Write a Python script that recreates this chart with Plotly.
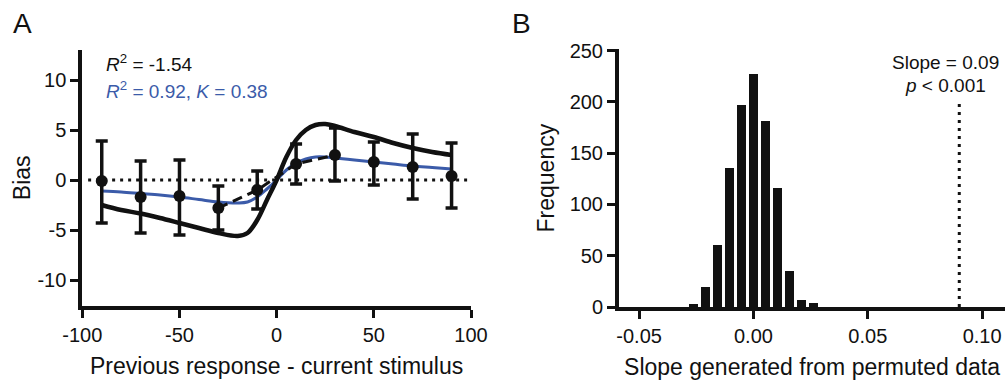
import plotly.graph_objects as go

W, H = 1005, 382

# ---- Panel A data ----
prev_x = [-90, -70, -50, -30, -10, 10, 30, 50, 70, 90]
bias_mean = [-0.1, -1.7, -1.6, -2.8, -1.0, 1.6, 2.5, 1.8, 1.3, 0.4]
err_up = [3.9, 1.9, 2.0, -0.6, 0.9, 3.6, 5.2, 3.8, 4.6, 3.7]
err_low = [-4.3, -5.3, -5.5, -5.0, -2.9, -0.4, -0.1, -0.5, -1.9, -2.8]

dashed_x = [-30, -10, 10, 30]
dashed_y = [-2.8, -1.0, 1.6, 2.5]

curve_x = [-90, -80, -70, -60, -50, -40, -30, -20, -15, -10, -5, 0,
           5, 10, 15, 20, 25, 30, 40, 50, 60, 70, 80, 90]
black_fit = [-2.5, -3.0, -3.35, -3.8, -4.3, -4.8, -5.3, -5.6, -5.3, -4.0, -2.0, 0.0,
             2.3, 4.0, 5.0, 5.5, 5.6, 5.4, 4.8, 4.3, 3.7, 3.2, 2.8, 2.5]
blue_fit = [-1.1, -1.2, -1.35, -1.5, -1.7, -1.95, -2.2, -2.3, -2.2, -1.7, -0.9, 0.0,
            1.0, 1.7, 2.1, 2.3, 2.3, 2.2, 2.0, 1.8, 1.6, 1.4, 1.25, 1.1]

zero_x = [-97, 98]
zero_y = [0, 0]

a_xticks = [-100, -50, 0, 50, 100]
a_xticklabels = ["-100", "-50", "0", "50", "100"]
a_yticks = [-10, -5, 0, 5, 10]
a_yticklabels = ["-10", "-5", "0", "5", "10"]

# ---- Panel B data ----
slope_bins = [-0.0263, -0.021, -0.0158, -0.0105, -0.0053, 0.0, 0.0053, 0.0105, 0.0158, 0.021, 0.0263]
slope_freq = [3, 19, 60, 135, 197, 227, 181, 116, 35, 7, 4]
observed_slope = 0.09
obs_line_top = 198
b_xticks = [-0.05, 0.0, 0.05, 0.10]
b_xticklabels = ["-0.05", "0.00", "0.05", "0.10"]
b_yticks = [0, 50, 100, 150, 200, 250]

FONT = "Liberation Sans, Arial, Helvetica, sans-serif"
INK = "#111111"
BLUE = "#3b5ba9"

def px(x):
    return x / W

def py(y):
    return 1 - y / H

fig = go.Figure()

# Panel A traces
fig.add_trace(go.Scatter(x=zero_x, y=zero_y, mode="lines",
                         line=dict(color=INK, width=3, dash="3px,5px"),
                         xaxis="x", yaxis="y", showlegend=False, hoverinfo="skip"))
fig.add_trace(go.Scatter(x=curve_x, y=blue_fit, mode="lines", line_shape="spline",
                         line=dict(color=BLUE, width=3),
                         xaxis="x", yaxis="y", showlegend=False))
fig.add_trace(go.Scatter(x=curve_x, y=black_fit, mode="lines", line_shape="spline",
                         line=dict(color=INK, width=4.5),
                         xaxis="x", yaxis="y", showlegend=False))
fig.add_trace(go.Scatter(x=dashed_x, y=dashed_y, mode="lines",
                         line=dict(color=INK, width=3, dash="10px,6px"),
                         xaxis="x", yaxis="y", showlegend=False))
fig.add_trace(go.Scatter(
    x=prev_x, y=bias_mean, mode="markers",
    marker=dict(color=INK, size=12),
    error_y=dict(type="data", symmetric=False,
                 array=[u - m for u, m in zip(err_up, bias_mean)],
                 arrayminus=[m - l for l, m in zip(err_low, bias_mean)],
                 color=INK, thickness=3.5, width=6),
    xaxis="x", yaxis="y", showlegend=False))

# Panel B traces
fig.add_trace(go.Bar(x=slope_bins, y=slope_freq, width=0.0041,
                     marker=dict(color=INK, line=dict(width=0)),
                     xaxis="x2", yaxis="y2", showlegend=False))
fig.add_trace(go.Scatter(x=[observed_slope, observed_slope], y=[0, obs_line_top], mode="lines",
                         line=dict(color=INK, width=3, dash="3px,5px"),
                         xaxis="x2", yaxis="y2", showlegend=False))

axis_common = dict(showline=True, linecolor=INK, linewidth=4, ticks="outside",
                   ticklen=8, tickwidth=3, tickcolor=INK, showgrid=False, zeroline=False,
                   automargin=False,
                   tickfont=dict(family=FONT, size=20, color=INK),
                   title_font=dict(family=FONT, size=23, color=INK))

fig.update_layout(
    width=W, height=H,
    margin=dict(l=0, r=0, t=0, b=0, pad=0),
    paper_bgcolor="white", plot_bgcolor="white",
    font=dict(family=FONT, color=INK),
    bargap=0,
    xaxis=dict(domain=[px(82.3), px(471)], range=[-100, 100], tickvals=a_xticks,
               ticktext=a_xticklabels,
               anchor="y", title=dict(text="Previous response - current stimulus", standoff=14),
               **axis_common),
    yaxis=dict(domain=[py(305.5), py(50)], range=[-12.55, 13], tickvals=a_yticks,
               ticktext=a_yticklabels,
               anchor="x", title=dict(text="Bias", standoff=1), **axis_common),
    xaxis2=dict(domain=[px(619), 1.0], range=[-0.0588, 0.11], tickvals=b_xticks,
                ticktext=b_xticklabels, anchor="y2",
                title=dict(text="Slope generated from permuted data", standoff=14),
                **axis_common),
    yaxis2=dict(domain=[py(307), py(49.3)], range=[0, 251.4], tickvals=b_yticks,
                anchor="x2", title=dict(text="Frequency", standoff=10), **axis_common),
)

ann = [
    dict(x=px(22), y=py(24), text="A", font=dict(size=28, color=INK, family=FONT)),
    dict(x=px(521), y=py(24), text="B", font=dict(size=28, color=INK, family=FONT)),
    dict(x=px(104), y=py(63), text="<i>R</i><sup>2</sup> = -1.54", xanchor="left",
         font=dict(size=19, color=INK, family=FONT)),
    dict(x=px(104), y=py(90), text="<i>R</i><sup>2</sup> = 0.92, <i>K</i> = 0.38", xanchor="left",
         font=dict(size=19, color=BLUE, family=FONT)),
    dict(x=px(945), y=py(63), text="Slope = 0.09", font=dict(size=19, color=INK, family=FONT)),
    dict(x=px(945), y=py(86), text="<i>p</i> < 0.001", font=dict(size=19, color=INK, family=FONT)),
]
for a in ann:
    a.setdefault("xanchor", "center")
    a.update(xref="paper", yref="paper", yanchor="middle", showarrow=False)
fig.update_layout(annotations=ann)

fig.write_html("out.html", config={"displayModeBar": False},
               post_script="document.body.style.margin='0';document.body.style.overflow='hidden';")
